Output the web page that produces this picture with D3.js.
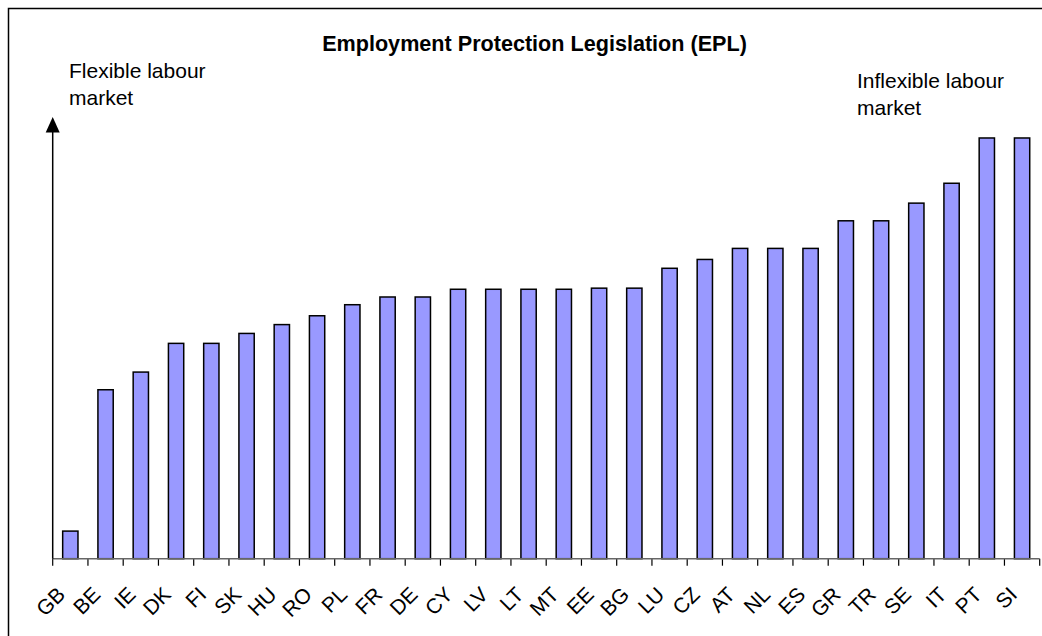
<!DOCTYPE html>
<html>
<head>
<meta charset="utf-8">
<script src="https://cdn.jsdelivr.net/npm/d3@7"></script>
<style>
  body { margin: 0; background: #fff; }
  svg { font-family: "Liberation Sans", Arial, sans-serif; }
</style>
</head>
<body>
<svg class="epl-chart"></svg>
<script>
var countries = ["GB", "BE", "IE", "DK", "FI", "SK", "HU", "RO", "PL", "FR", "DE", "CY", "LV", "LT",
                 "MT", "EE", "BG", "LU", "CZ", "AT", "NL", "ES", "GR", "TR", "SE", "IT", "PT", "SI"];
var eplValues = [0.25, 1.53, 1.69, 1.95, 1.95, 2.04, 2.12, 2.20, 2.30, 2.37, 2.37, 2.44, 2.44, 2.44,
                 2.44, 2.45, 2.45, 2.63, 2.71, 2.81, 2.81, 2.81, 3.06, 3.06, 3.22, 3.40, 3.81, 3.81];
var yDomain = [0, 4];
var chartTitle = "Employment Protection Legislation (EPL)";
var leftNote = ["Flexible labour", "market"];
var rightNote = ["Inflexible labour", "market"];

var data = countries.map(function(c, i) { return {country: c, value: eplValues[i]}; });

var width = 1042, height = 636;
var plot = {left: 52.7, right: 1039.7, bottom: 558.7, top: 117};

var svg = d3.select(".epl-chart")
    .attr("width", width)
    .attr("height", height);

// outer frame (runs off the right and bottom edges in the original)
svg.append("path")
    .attr("d", "M8.5," + height + "V8.5H" + width)
    .attr("fill", "none")
    .attr("stroke", "#000")
    .attr("stroke-width", 1.5);

// band scale for ticks / labels, padded one for the bars
var xBand = d3.scaleBand()
    .domain(countries)
    .range([plot.left, plot.right]);
var x = d3.scaleBand()
    .domain(countries)
    .range([plot.left, plot.right])
    .paddingInner(0.566)
    .paddingOuter(0.283);
var y = d3.scaleLinear()
    .domain(yDomain)
    .range([plot.bottom, plot.top]);

svg.append("text")
    .attr("x", 534.5)
    .attr("y", 51)
    .attr("text-anchor", "middle")
    .attr("font-size", 21.6)
    .attr("font-weight", "bold")
    .text(chartTitle);

function note(lines, tx, ty) {
    var t = svg.append("text")
        .attr("font-size", 21)
        .attr("fill", "#000");
    lines.forEach(function(l, i) {
        t.append("tspan").attr("x", tx).attr("y", ty + i * 27.7).text(l);
    });
}
note(leftNote, 69, 77.5);
note(rightNote, 857, 87.5);

// bars
svg.selectAll(".bar")
    .data(data)
    .enter().append("rect")
    .attr("class", "bar")
    .attr("x", function(d) { return x(d.country); })
    .attr("width", x.bandwidth())
    .attr("y", function(d) { return y(d.value); })
    .attr("height", function(d) { return y(0) - y(d.value); })
    .attr("fill", "#9999ff")
    .attr("stroke", "#000")
    .attr("stroke-width", 1.5);

// x axis: labels from d3, baseline + ticks at band edges
var xAxis = svg.append("g")
    .attr("transform", "translate(0," + plot.bottom + ")")
    .call(d3.axisBottom(xBand).tickSize(0).tickPadding(0));
xAxis.select(".domain").remove();
xAxis.selectAll(".tick text")
    .attr("font-family", "Liberation Sans, Arial, sans-serif")
    .attr("font-size", 21)
    .attr("fill", "#000")
    .attr("text-anchor", "end")
    .attr("dy", "0.35em")
    .attr("y", 0)
    .attr("transform", "translate(-9,32) rotate(-45)");

var edges = countries.map(function(c) { return xBand(c); }).concat([plot.right]);
svg.append("g").selectAll("line")
    .data(edges)
    .enter().append("line")
    .attr("x1", function(d) { return d; })
    .attr("x2", function(d) { return d; })
    .attr("y1", plot.bottom)
    .attr("y2", plot.bottom + 7)
    .attr("stroke", "#000")
    .attr("stroke-width", 1.2);

svg.append("line")
    .attr("x1", plot.left)
    .attr("x2", plot.right)
    .attr("y1", plot.bottom)
    .attr("y2", plot.bottom)
    .attr("stroke", "#666")
    .attr("stroke-width", 1.5);

// arrow up the y side
svg.append("line")
    .attr("x1", plot.left)
    .attr("x2", plot.left)
    .attr("y1", plot.bottom)
    .attr("y2", plot.top + 10)
    .attr("stroke", "#000")
    .attr("stroke-width", 1.5);
svg.append("path")
    .attr("d", "M" + plot.left + "," + plot.top + "l7,15.5h-14z")
    .attr("fill", "#000");
</script>
</body>
</html>
